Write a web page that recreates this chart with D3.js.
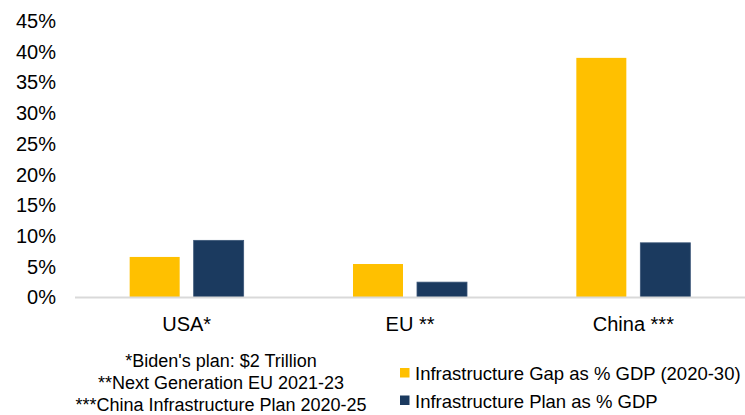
<!DOCTYPE html>
<html>
<head>
<meta charset="utf-8">
<script src="https://cdn.jsdelivr.net/npm/d3@7"></script>
<style>
  body { margin: 0; background: #fff; }
  svg { display: block; }
  text { font-family: "Liberation Sans", Arial, sans-serif; fill: #000; }
</style>
</head>
<body>
<svg id="chart" width="745" height="415"></svg>
<script>
const categories = ["USA*", "EU **", "China ***"];
const seriesNames = ["Infrastructure Gap as % GDP (2020-30)", "Infrastructure Plan as % GDP"];
const gapValues = [6.6, 5.45, 39.0];
const planValues = [9.3, 2.5, 8.9];
const yTicks = [0, 5, 10, 15, 20, 25, 30, 35, 40, 45];
const footnotes = ["*Biden's plan: $2 Trillion", "**Next Generation EU 2021-23", "***China Infrastructure Plan 2020-25"];
const colors = ["#FFC000", "#1B3A5F"];

const svg = d3.select("#chart");
const y = d3.scaleLinear().domain([0, 45]).range([297.5, 21]);
const x0 = d3.scaleBand().domain(categories).range([75, 745]).padding(0);
const groupW = 114;
const x1 = d3.scaleBand().domain([0, 1]).range([0, groupW]).paddingInner(0.21875).paddingOuter(0);

// y axis labels
const yAxis = d3.axisLeft(y).tickValues(yTicks).tickFormat(d => d + "%").tickSize(0).tickPadding(0);
const gy = svg.append("g").attr("transform", "translate(56,0)").call(yAxis);
gy.select(".domain").remove();
gy.selectAll("text").attr("font-size", 20).attr("fill", "#000").attr("font-family", "Liberation Sans, Arial, sans-serif");

// bars
const data = categories.map((c, i) => ({ c, v: [gapValues[i], planValues[i]] }));
const groups = svg.append("g").selectAll("g").data(data).join("g")
  .attr("transform", d => `translate(${x0(d.c) + (x0.bandwidth() - groupW) / 2},0)`);
groups.selectAll("rect").data(d => d.v.map((v, k) => ({ v, k }))).join("rect")
  .attr("x", d => x1(d.k))
  .attr("width", x1.bandwidth())
  .attr("y", d => y(d.v))
  .attr("height", d => y(0) - y(d.v))
  .attr("fill", d => colors[d.k])
  .attr("stroke", d => d.k === 1 ? "#3b5678" : "none")
  .attr("stroke-width", 0.8);

// x axis baseline and labels
const xAxis = d3.axisBottom(x0).tickSize(0).tickPadding(0);
const gx = svg.append("g").attr("transform", `translate(0,${y(0)})`).call(xAxis);
gx.select(".domain").attr("stroke", "#d9d9d9").attr("stroke-width", 2).attr("d", "M75,0H745");
gx.selectAll("text").attr("font-size", 20).attr("fill", "#000").attr("dy", 0).attr("y", 33.5)
  .attr("font-family", "Liberation Sans, Arial, sans-serif");

// footnotes
svg.append("g").selectAll("text").data(footnotes).join("text")
  .attr("x", 221).attr("y", (d, i) => 367 + i * 22)
  .attr("text-anchor", "middle").attr("font-size", 18).text(d => d);

// legend
const lg = svg.append("g").selectAll("g").data(seriesNames).join("g")
  .attr("transform", (d, i) => `translate(400,${368 + i * 27.5})`);
lg.append("rect").attr("width", 9.5).attr("height", 9.5).attr("fill", (d, i) => colors[i]);
lg.append("text").attr("x", 15).attr("y", 12).attr("font-size", 18.5).text(d => d);
</script>
</body>
</html>
